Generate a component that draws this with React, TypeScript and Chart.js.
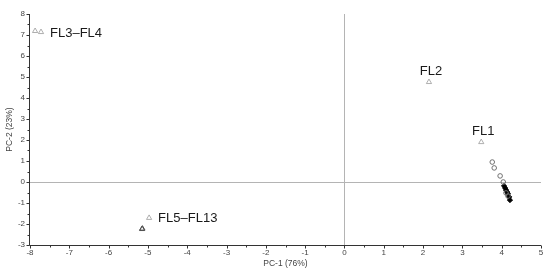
import React, { useEffect, useRef } from "react";
import { Chart, registerables } from "chart.js";

Chart.register(...registerables);

// Triangles (light grey, open)
const triX = [-7.87, -7.72, 2.15, 3.48, -4.97];
const triY = [7.19, 7.14, 4.76, 1.9, -1.71];
// Overlapping triangles (darker)
const triDarkX = [-5.15, -5.14];
const triDarkY = [-2.24, -2.22];
// Open circles
const circX = [3.76, 3.81, 3.96, 4.04, 4.11, 4.16];
const circY = [0.95, 0.67, 0.29, 0.0, -0.52, -0.67];
// Filled diamonds
const diaX = [4.06, 4.09, 4.11, 4.14, 4.16, 4.19, 4.21];
const diaY = [-0.19, -0.29, -0.38, -0.48, -0.57, -0.71, -0.86];

const labelTexts = ["FL3–FL4", "FL2", "FL1", "FL5–FL13"];
const labelAnchor = [1, 2, 3, 4]; // index into triangle arrays

const xTitle = "PC-1 (76%)";
const yTitle = "PC-2 (23%)";

const toPts = (xs: number[], ys: number[]) => xs.map((x, i) => ({ x, y: ys[i] }));

const overlay = {
  id: "overlay",
  beforeDatasetsDraw(chart: any) {
    const { ctx, chartArea: a, scales } = chart;
    const xs = scales.x, ys = scales.y;
    ctx.save();
    ctx.strokeStyle = "#b4b4b4";
    ctx.lineWidth = 1;
    const x0 = Math.round(xs.getPixelForValue(0)) + 0.5;
    const y0 = Math.round(ys.getPixelForValue(0)) + 0.5;
    ctx.beginPath();
    ctx.moveTo(x0, a.top);
    ctx.lineTo(x0, a.bottom);
    ctx.moveTo(a.left, y0);
    ctx.lineTo(a.right, y0);
    ctx.stroke();
    ctx.restore();
  },
  afterDraw(chart: any) {
    const { ctx, chartArea: a, scales } = chart;
    const xs = scales.x, ys = scales.y;
    ctx.save();
    ctx.strokeStyle = "#333";
    ctx.lineWidth = 1;
    const bx = Math.round(a.bottom) + 0.5;
    const lx = Math.round(a.left) - 0.5;
    ctx.beginPath();
    ctx.moveTo(lx, a.top);
    ctx.lineTo(lx, bx);
    ctx.lineTo(a.right, bx);
    for (let v = xs.min; v <= xs.max + 1e-9; v += 0.5) {
      const px = Math.round(xs.getPixelForValue(v)) + 0.5;
      const len = Math.abs(v - Math.round(v)) < 1e-6 ? 3 : 2;
      ctx.moveTo(px, bx);
      ctx.lineTo(px, bx + len);
    }
    for (let v = ys.min; v <= ys.max + 1e-9; v += 0.5) {
      const py = Math.round(ys.getPixelForValue(v)) + 0.5;
      const len = Math.abs(v - Math.round(v)) < 1e-6 ? 3 : 2;
      ctx.moveTo(lx, py);
      ctx.lineTo(lx - len, py);
    }
    ctx.stroke();
    ctx.fillStyle = "#1a1a1a";
    ctx.font = "13px 'Liberation Sans', Arial, sans-serif";
    ctx.textBaseline = "middle";
    labelTexts.forEach((t, i) => {
      const k = labelAnchor[i];
      const px = xs.getPixelForValue(triX[k]);
      const py = ys.getPixelForValue(triY[k]);
      if (i === 0 || i === 3) {
        ctx.textAlign = "left";
        ctx.fillText(t, px + 9, py + 1);
      } else {
        ctx.textAlign = "center";
        ctx.fillText(t, px + 2, py - 11);
      }
    });
    ctx.fillStyle = "#444";
    ctx.font = "8.5px 'Liberation Sans', Arial, sans-serif";
    ctx.textAlign = "center";
    ctx.fillText(xTitle, (a.left + a.right) / 2, 264);
    ctx.save();
    ctx.translate(10, (a.top + a.bottom) / 2);
    ctx.rotate(-Math.PI / 2);
    ctx.fillText(yTitle, 0, 0);
    ctx.restore();
    ctx.restore();
  },
};

export default function App() {
  const ref = useRef<HTMLCanvasElement>(null);
  useEffect(() => {
    document.body.style.margin = "0";
    const chart = new Chart(ref.current!, {
      type: "scatter",
      data: {
        datasets: [
          {
            data: toPts(circX, circY),
            pointStyle: "circle",
            pointRadius: 2.3,
            borderColor: "#707070",
            backgroundColor: "rgba(255,255,255,0)",
            borderWidth: 1,
          },
          {
            data: toPts(diaX, diaY),
            pointStyle: "rectRot",
            pointRadius: 2.6,
            borderColor: "#000",
            backgroundColor: "#000",
            borderWidth: 1,
          },
          {
            data: toPts(triX, triY),
            pointStyle: "triangle",
            pointRadius: 3,
            borderColor: "#9a9a9a",
            backgroundColor: "rgba(255,255,255,0)",
            borderWidth: 0.8,
          },
          {
            data: toPts(triDarkX, triDarkY),
            pointStyle: "triangle",
            pointRadius: 3,
            borderColor: "#505050",
            backgroundColor: "rgba(255,255,255,0)",
            borderWidth: 1,
          },
        ],
      },
      plugins: [overlay],
      options: {
        animation: false,
        responsive: false,
        layout: { padding: { top: 14, right: 9, left: 0, bottom: 0 } },
        plugins: { legend: { display: false }, tooltip: { enabled: false } },
        scales: {
          x: {
            type: "linear",
            min: -8,
            max: 5,
            border: { display: false },
            grid: { display: false, drawTicks: false, tickLength: 0 },
            ticks: {
              stepSize: 1,
              padding: 3,
              color: "#444",
              font: { family: "'Liberation Sans', Arial, sans-serif", size: 8 },
            },
            afterFit: (s: any) => { s.height = 27; },
          },
          y: {
            type: "linear",
            min: -3,
            max: 8,
            border: { display: false },
            grid: { display: false, drawTicks: false, tickLength: 0 },
            ticks: {
              stepSize: 1,
              padding: 5,
              color: "#444",
              font: { family: "'Liberation Sans', Arial, sans-serif", size: 8 },
            },
            afterFit: (s: any) => { s.width = 30; },
          },
        },
      },
    } as any);
    return () => chart.destroy();
  }, []);
  return <canvas ref={ref} width={550} height={272} style={{ display: "block" }} />;
}
